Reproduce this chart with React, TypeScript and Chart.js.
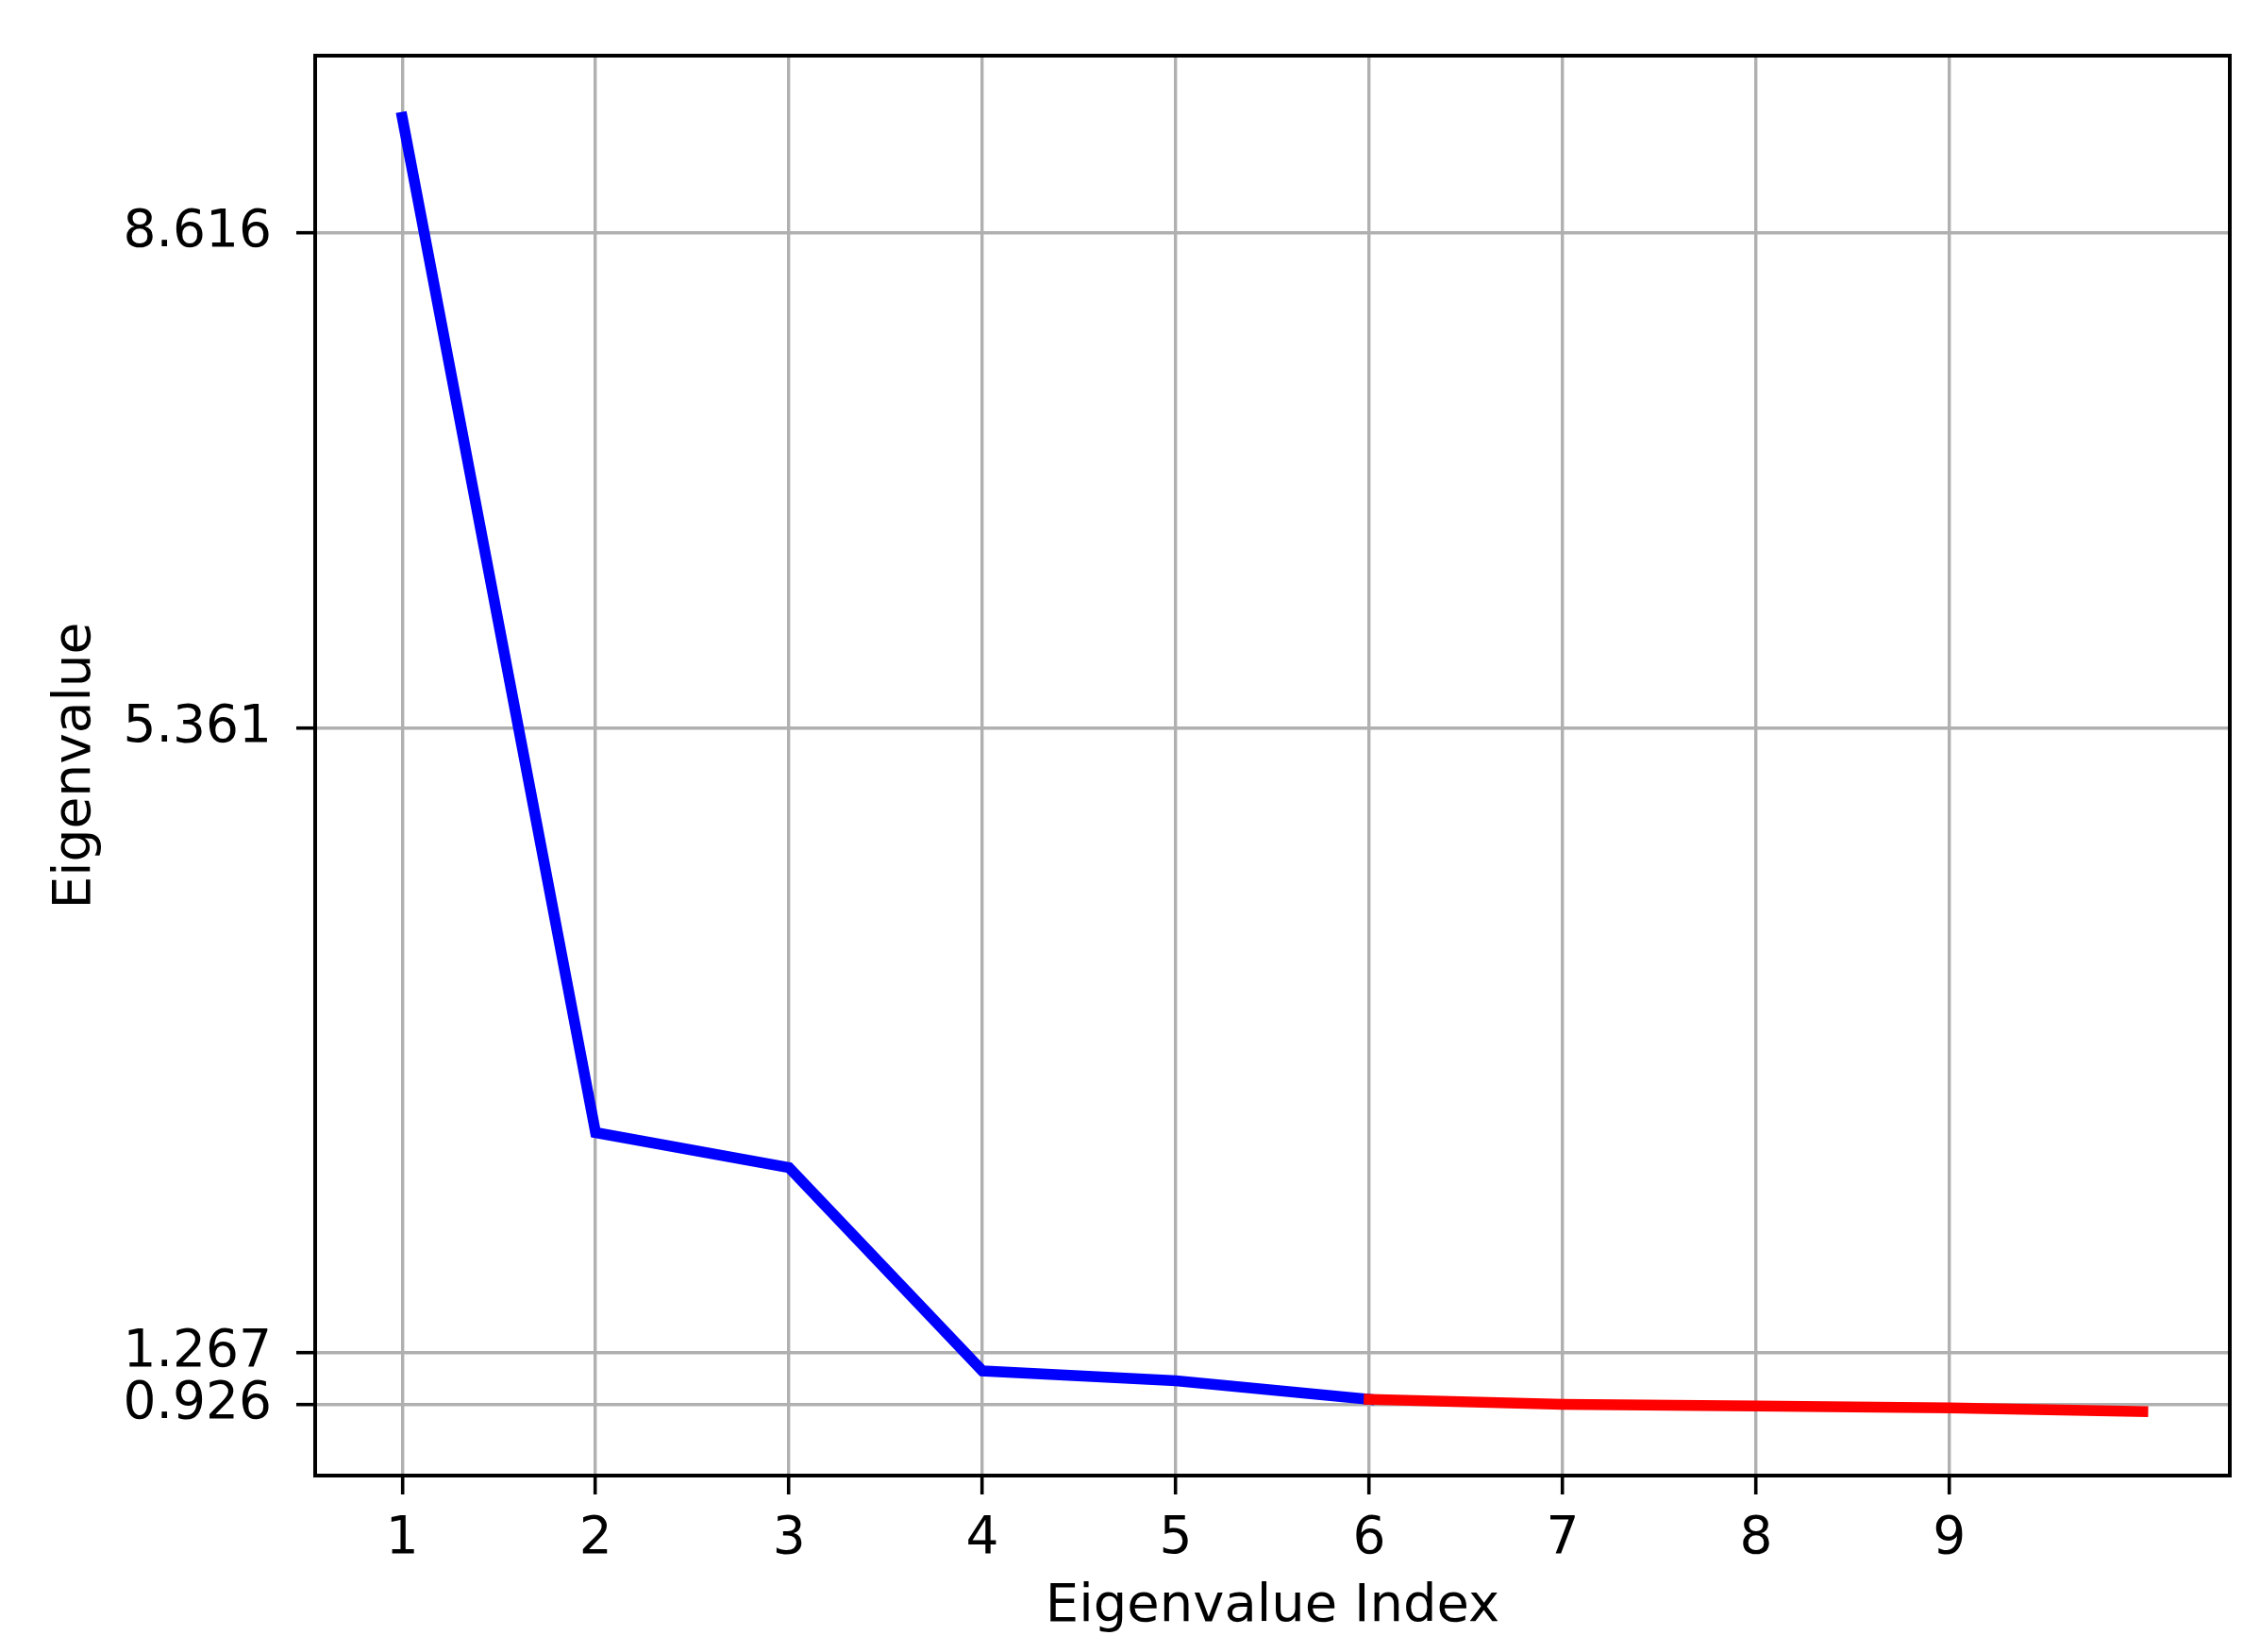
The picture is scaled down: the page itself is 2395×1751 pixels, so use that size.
import React, { useEffect, useRef } from "react";
import { Chart, registerables } from "chart.js";

Chart.register(...registerables);

// ---- data ----
const indices = [1, 2, 3, 4, 5, 6, 7, 8, 9, 10];
const eigenvalues = [9.37, 2.71, 2.48, 1.147, 1.082, 0.96, 0.927, 0.917, 0.904, 0.88];
const splitAt = 6; // blue through index 6, red from index 6 onward
const xTickValues = [1, 2, 3, 4, 5, 6, 7, 8, 9];
const yTickValues = [0.926, 1.267, 5.361, 8.616];
const yTickLabels = ["0.926", "1.267", "5.361", "8.616"];
const xTitle = "Eigenvalue Index";
const yTitle = "Eigenvalue";
const xRange = [0.55, 10.45];
const yRange = [0.46, 9.775];

const FONT = "'DejaVu Sans', sans-serif";

const framePlugin = {
  id: "frame",
  afterDatasetsDraw(chart: any) {
    const { ctx, chartArea } = chart;
    const { left, top, right, bottom } = chartArea;
    ctx.save();
    ctx.strokeStyle = "#000";
    ctx.lineWidth = 4;
    ctx.strokeRect(left, top, right - left, bottom - top);
    ctx.restore();
  },
};

export default function App() {
  const ref = useRef<HTMLCanvasElement | null>(null);

  useEffect(() => {
    if (!ref.current) return;
    const pts = indices.map((x, i) => ({ x, y: eigenvalues[i] }));
    const bluePts = pts.filter((p) => p.x <= splitAt);
    const redPts = pts.filter((p) => p.x >= splitAt);

    const chart = new Chart(ref.current, {
      type: "line",
      data: {
        datasets: [
          {
            data: redPts,
            borderColor: "#ff0000",
            borderWidth: 11.5,
            borderCapStyle: "square",
            pointRadius: 0,
            fill: false,
            tension: 0,
          },
          {
            data: bluePts,
            borderColor: "#0000ff",
            borderWidth: 11.5,
            borderCapStyle: "square",
            pointRadius: 0,
            fill: false,
            tension: 0,
          },
        ],
      },
      options: {
        responsive: false,
        animation: false,
        devicePixelRatio: 1,
        layout: { padding: { top: 55, right: 32, left: 0, bottom: 0 } },
        plugins: {
          legend: { display: false },
          tooltip: { enabled: false },
        },
        scales: {
          x: {
            type: "linear",
            min: xRange[0],
            max: xRange[1],
            afterBuildTicks: (scale: any) => {
              scale.ticks = xTickValues.map((v) => ({ value: v }));
            },
            afterFit: (scale: any) => {
              scale.height = 187;
            },
            grid: {
              color: "#b0b0b0",
              lineWidth: 3.4,
              drawTicks: true,
              tickLength: 20,
              tickColor: "#000",
              tickWidth: 3.6,
            },
            border: { display: false },
            ticks: {
              autoSkip: false,
              maxRotation: 0,
              padding: 15,
              color: "#000",
              font: { family: FONT, size: 55 },
              callback: (v: any) => String(v),
            },
            title: {
              display: true,
              text: xTitle,
              color: "#000",
              font: { family: FONT, size: 56 },
              padding: { top: 0, bottom: 14 },
            },
          },
          y: {
            type: "linear",
            min: yRange[0],
            max: yRange[1],
            afterBuildTicks: (scale: any) => {
              scale.ticks = yTickValues.map((v) => ({ value: v }));
            },
            afterFit: (scale: any) => {
              scale.width = 334;
            },
            grid: {
              color: "#b0b0b0",
              lineWidth: 3.4,
              drawTicks: true,
              tickLength: 20,
              tickColor: "#000",
              tickWidth: 3.6,
            },
            border: { display: false },
            ticks: {
              autoSkip: false,
              padding: 26,
              color: "#000",
              font: { family: FONT, size: 55 },
              callback: (v: any) => {
                const i = yTickValues.indexOf(Number(v));
                return i >= 0 ? yTickLabels[i] : "";
              },
            },
            title: {
              display: true,
              text: yTitle,
              color: "#000",
              font: { family: FONT, size: 55 },
              padding: { top: 48, bottom: 0 },
            },
          },
        },
      },
      plugins: [framePlugin],
    } as any);

    return () => chart.destroy();
  }, []);

  return (
    <div style={{ position: "fixed", left: 0, top: 0, width: 2395, height: 1751, background: "#fff" }}>
      <canvas ref={ref} width={2395} height={1751} style={{ width: 2395, height: 1751, display: "block" }} />
    </div>
  );
}
